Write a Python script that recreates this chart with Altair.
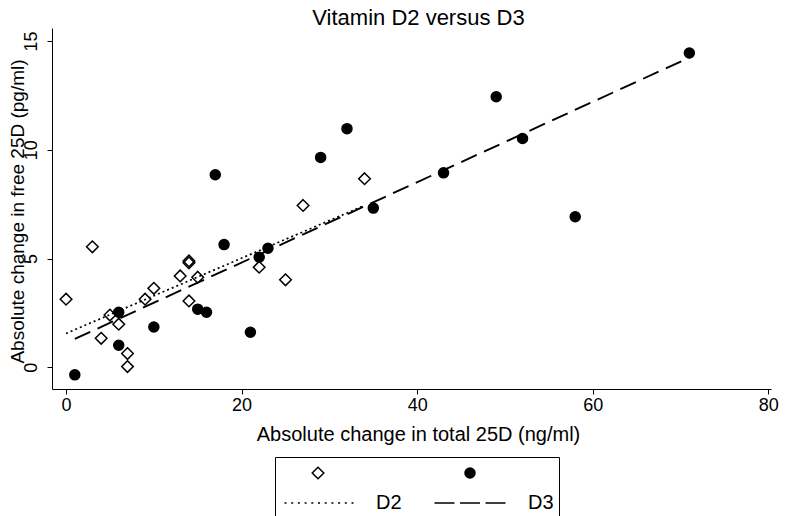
import altair as alt
import pandas as pd

# Vitamin D2 group (hollow diamonds)
d2_x = [0, 3, 4, 5, 6, 7, 7, 9, 10, 13, 14, 14, 14, 15, 22, 25, 27, 34]
d2_y = [3.13, 5.54, 1.33, 2.40, 1.98, 0.63, 0.03, 3.13, 3.63, 4.20, 4.89, 4.80, 3.05, 4.14, 4.60, 4.02, 7.44, 8.67]
# Vitamin D3 group (filled circles)
d3_x = [1, 6, 6, 10, 15, 16, 17, 18, 21, 22, 23, 29, 32, 35, 43, 49, 52, 58, 71]
d3_y = [-0.35, 2.53, 1.01, 1.85, 2.67, 2.53, 8.85, 5.64, 1.61, 5.06, 5.47, 9.65, 10.97, 7.32, 8.94, 12.44, 10.52, 6.92, 14.45]

x_ticks = [0, 20, 40, 60, 80]
y_ticks = [0, 5, 10, 15]
# legend entries (laid out column by column: markers on row 1, fit lines on row 2)
legend_keys = ["p2", "D2", "p3", "D3"]

FONT = "Liberation Sans"
SYM = 400  # symbol area -> 20px unit box; custom paths scaled 10px per unit

df = pd.DataFrame({
    "x": d2_x + d3_x,
    "y": d2_y + d3_y,
    "group": ["D2"] * len(d2_x) + ["D3"] * len(d3_x),
    "key": ["p2"] * len(d2_x) + ["p3"] * len(d3_x),
})

diamond = "M0,-0.58L0.58,0L0,0.58L-0.58,0Z"
circle = "M0.5,0A0.5,0.5 0 1,1 -0.5,0A0.5,0.5 0 1,1 0.5,0Z"
dotted = "".join(f"M{-3.35 + i * 0.67:.2f},0h0.2" for i in range(11))
dashed = "M-3.55,0H-1.55M-1.0,0H1.0M1.55,0H3.55"

xs = alt.Scale(domain=[-1.6, 80.3], nice=False, zero=False)
ys = alt.Scale(domain=[-1.0, 15.6], nice=False, zero=False)

x_axis = alt.Axis(values=x_ticks, grid=False, tickSize=5, tickColor="black", domainColor="black",
                  labelFont=FONT, labelFontSize=18, labelColor="black", labelPadding=2,
                  titleFont=FONT, titleFontSize=20, titleColor="black", titleFontWeight="normal",
                  titlePadding=10, titleX=366, labelFlush=False)
y_axis = alt.Axis(values=y_ticks, grid=False, tickSize=5, tickColor="black", domainColor="black",
                  labelFont=FONT, labelFontSize=18, labelColor="black", labelAngle=270,
                  labelAlign="center", labelBaseline="bottom",
                  labelPadding=7, labelFlush=False,
                  titleFont=FONT, titleFontSize=19, titleColor="black", titleFontWeight="normal",
                  titleAngle=270, titleX=-29, titleY=183, titleAlign="center",
                  titleBaseline="alphabetic")

legend = alt.Legend(title=None, orient="none", legendX=223, legendY=429, columns=2,
                    strokeColor="black", padding=5, labelFont=FONT, labelFontSize=20,
                    labelColor="black", columnPadding=29, rowPadding=9, symbolSize=SYM,
                    symbolStrokeWidth=1.5, symbolOffset=27, labelOffset=47,
                    labelExpr="datum.label == 'p2' || datum.label == 'p3' ? '' : datum.label")

points = alt.Chart(df).mark_point(size=SYM, strokeWidth=1.5, opacity=1).encode(
    x=alt.X("x:Q", scale=xs, axis=x_axis, title="Absolute change in total 25D (ng/ml)"),
    y=alt.Y("y:Q", scale=ys, axis=y_axis, title="Absolute change in free 25D (pg/ml)"),
    shape=alt.Shape("key:N", scale=alt.Scale(domain=legend_keys, range=[diamond, dotted, circle, dashed]),
                    legend=legend, title=None),
    fill=alt.Fill("key:N", scale=alt.Scale(domain=legend_keys,
                                           range=["transparent", "transparent", "black", "transparent"]),
                  legend=legend, title=None),
    stroke=alt.Stroke("key:N", scale=alt.Scale(domain=legend_keys, range=["black"] * 4),
                      legend=legend, title=None),
)

line2 = alt.Chart(df).transform_filter("datum.group == 'D2'").transform_regression(
    "x", "y").mark_line(color="black", strokeWidth=1.7, strokeDash=[2, 3]).encode(
    x=alt.X("x:Q", scale=xs), y=alt.Y("y:Q", scale=ys))
line3 = alt.Chart(df).transform_filter("datum.group == 'D3'").transform_regression(
    "x", "y").mark_line(color="black", strokeWidth=1.9, strokeDash=[17, 8]).encode(
    x=alt.X("x:Q", scale=xs), y=alt.Y("y:Q", scale=ys))

chart = alt.layer(points, line2, line3).properties(
    width=719, height=361,
    title=alt.Title("Vitamin D2 versus D3", font=FONT, fontSize=22, fontWeight="normal",
                    color="black", offset=-2, dx=7, frame="group"),
    autosize=alt.AutoSizeParams(type="none"),
    padding={"left": 44, "top": 20, "right": 9, "bottom": 127},
    background="white",
).configure_view(stroke=None)

chart.save("out.html", embed_options={"renderer": "svg", "actions": False})
